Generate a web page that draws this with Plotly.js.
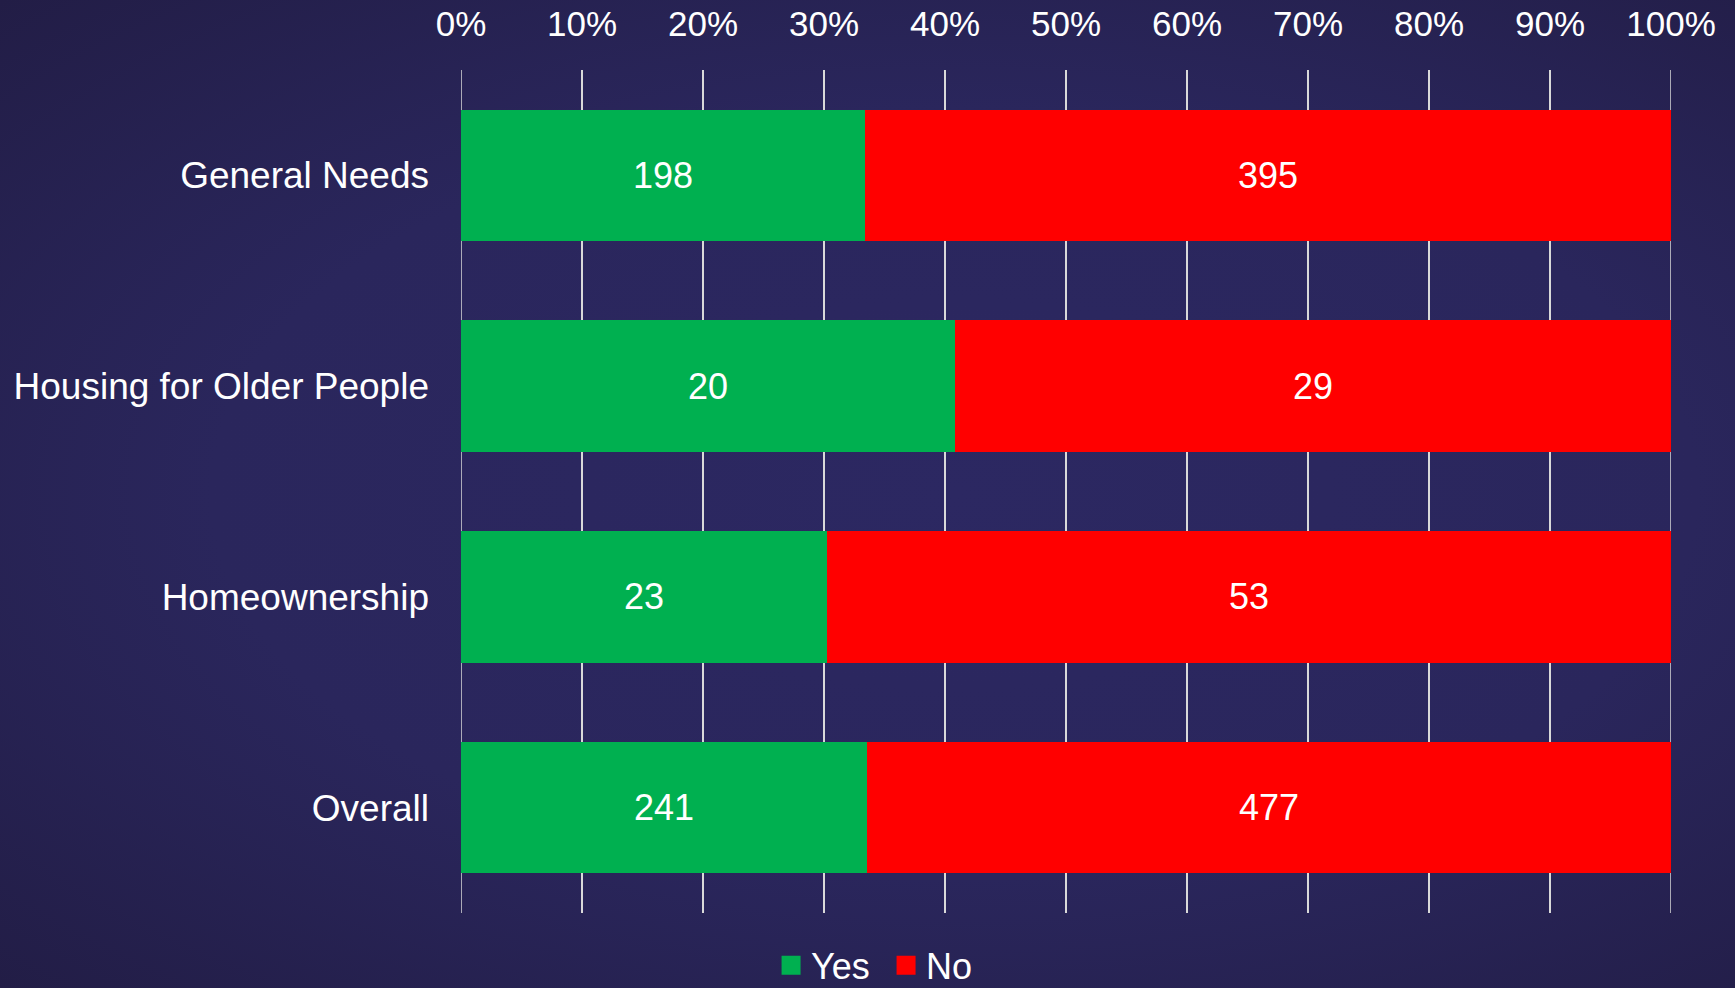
<!DOCTYPE html>
<html>
<head>
<meta charset="utf-8">
<script src="https://cdn.plot.ly/plotly-3.0.1.min.js"></script>
<style>
  html, body { margin: 0; padding: 0; width: 1735px; height: 988px; overflow: hidden; }
  body { background: radial-gradient(ellipse at 55% 50%, #2c2862 0%, #2a265c 55%, #221d46 100%); }
  #chart { width: 1735px; height: 988px; }
</style>
</head>
<body>
<div id="chart"></div>
<script>
const categories = ["General Needs", "Housing for Older People", "Homeownership", "Overall"];
const yesValues = [198, 20, 23, 241];
const noValues = [395, 29, 53, 477];
const seriesNames = ["Yes", "No"];
const seriesColors = ["#00b050", "#ff0000"];

const FONT = "Liberation Sans, Arial, sans-serif";
const GRID = "#d9d9d9";

const traces = [yesValues, noValues].map((vals, i) => ({
  type: "bar",
  orientation: "h",
  name: seriesNames[i],
  y: categories,
  x: vals,
  text: vals.map(String),
  textposition: "inside",
  insidetextanchor: "middle",
  textfont: { family: FONT, size: 36, color: "#ffffff" },
  marker: { color: seriesColors[i], line: { width: 0 } },
  hoverinfo: "skip"
}));

const layout = {
  width: 1735,
  height: 988,
  paper_bgcolor: "rgba(0,0,0,0)",
  plot_bgcolor: "rgba(0,0,0,0)",
  margin: { l: 461, r: 64, t: 70, b: 75, pad: 0, autoexpand: false },
  barmode: "stack",
  barnorm: "percent",
  bargap: 0.375,
  font: { family: FONT, color: "#ffffff", size: 36 },
  xaxis: {
    side: "top",
    range: [0, 100],
    dtick: 10,
    tick0: 0,
    ticksuffix: "%",
    showgrid: true,
    gridcolor: GRID,
    gridwidth: 1.5,
    zeroline: false,
    showline: false,
    ticks: "",
    ticklabelstandoff: 26,
    tickfont: { family: FONT, size: 35, color: "#ffffff" },
    fixedrange: true
  },
  yaxis: {
    autorange: "reversed",
    showgrid: false,
    zeroline: false,
    showline: false,
    ticks: "",
    ticklabelstandoff: 31,
    tickfont: { family: FONT, size: 37, color: "#ffffff" },
    fixedrange: true
  },
  shapes: [0, 100].map(v => ({
    type: "line", layer: "below",
    xref: "x", yref: "paper",
    x0: v, x1: v, y0: 0, y1: 1,
    line: { color: GRID, width: 1.5 }
  })),
  showlegend: true,
  legend: {
    orientation: "h",
    traceorder: "normal",
    xref: "container",
    yref: "paper",
    x: 0.5107,
    xanchor: "center",
    y: -0.062,
    yanchor: "middle",
    font: { family: FONT, size: 36, color: "#ffffff" },
    bgcolor: "rgba(0,0,0,0)",
    itemwidth: 30,
    entrywidth: 70,
    entrywidthmode: "pixels",
    tracegroupgap: 0
  }
};

Plotly.newPlot("chart", traces, layout, { displayModeBar: false, staticPlot: true }).then(gd => {
  gd.querySelectorAll(".legend .legendpoints path").forEach(p => {
    p.setAttribute("d", "M9.5,9.5H-9.5V-9.5H9.5Z");
  });
});
</script>
</body>
</html>
